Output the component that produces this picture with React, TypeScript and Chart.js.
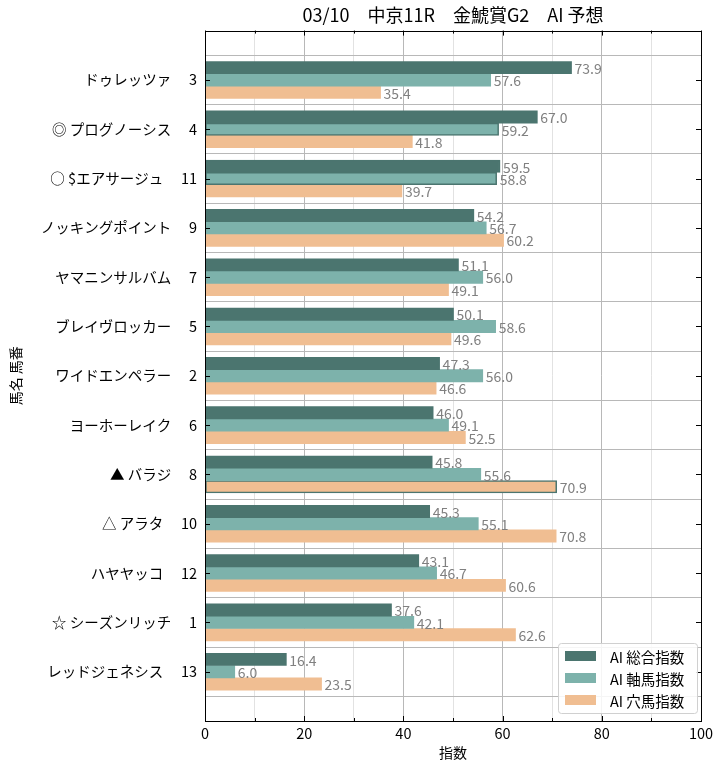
import React, { useEffect, useRef } from "react";
import { Chart, registerables } from "chart.js";
Chart.register(...registerables);

const titleText = "03/10\u3000中京11R\u3000金鯱賞G2\u3000AI 予想";
const marks = ["", "◎", "○", "", "", "", "", "", "▲", "△", "", "☆", ""];
const horseNames = [
  "ドゥレッツァ", "プログノーシス", "$エアサージュ", "ノッキングポイント", "ヤマニンサルバム",
  "ブレイヴロッカー", "ワイドエンペラー", "ヨーホーレイク", "バラジ", "アラタ",
  "ハヤヤッコ", "シーズンリッチ", "レッドジェネシス",
];
const horseNumbers = [3, 4, 11, 9, 7, 5, 2, 6, 8, 10, 12, 1, 13];
const totalIndex = [73.9, 67.0, 59.5, 54.2, 51.1, 50.1, 47.3, 46.0, 45.8, 45.3, 43.1, 37.6, 16.4];
const axisIndex = [57.6, 59.2, 58.8, 56.7, 56.0, 58.6, 56.0, 49.1, 55.6, 55.1, 46.7, 42.1, 6.0];
const anaIndex = [35.4, 41.8, 39.7, 60.2, 49.1, 49.6, 46.6, 52.5, 70.9, 70.8, 60.6, 62.6, 23.5];
const seriesNames = ["AI 総合指数", "AI 軸馬指数", "AI 穴馬指数"];
// which horse (by row) has an outlined bar in each series
const outlinedTotal = [2];
const outlinedAxis = [1, 2];
const outlinedAna = [8];
const xTicks = [0, 20, 40, 60, 80, 100];

const FONT = "'Noto Sans CJK JP', 'Noto Sans', sans-serif";
const C_DARK = "#4b756f";
const C_MID = "#7db2ab";
const C_ORANGE = "#f0be92";

export default function App() {
  const ref = useRef<HTMLCanvasElement>(null);
  useEffect(() => {
    const labels = ["", ...horseNames.map((n, i) => (marks[i] ? marks[i] + " " : "") + n + "\u3000 " + horseNumbers[i]), ""];
    const pad = (a: number[]) => [null, ...a, null];
    const outlined = (rows: number[]) => (ctx: any) => (rows.includes(ctx.dataIndex - 1) ? 1.5 : 0);

    const valueLabels = {
      id: "valueLabels",
      afterDatasetsDraw(chart: any) {
        const ctx = chart.ctx;
        ctx.save();
        ctx.font = `14px ${FONT}`;
        ctx.fillStyle = "#808080";
        ctx.textBaseline = "middle";
        ctx.textAlign = "left";
        chart.data.datasets.forEach((ds: any, di: number) => {
          const meta = chart.getDatasetMeta(di);
          meta.data.forEach((el: any, i: number) => {
            const v = ds.data[i];
            if (v == null) return;
            ctx.fillText(v.toFixed(1), el.x + 3, el.y + 1);
          });
        });
        ctx.restore();
      },
    };

    const frame = {
      id: "frame",
      afterDraw(chart: any) {
        const ctx = chart.ctx;
        const a = chart.chartArea;
        const xs = chart.scales.x;
        const ys = chart.scales.y;
        ctx.save();
        ctx.strokeStyle = "#000";
        ctx.lineWidth = 1;
        // inward ticks
        ctx.beginPath();
        for (let v = 0; v <= 100; v += 10) {
          const px = Math.round(xs.getPixelForValue(v)) + 0.5;
          const len = v % 20 === 0 ? 5 : 3;
          ctx.moveTo(px, a.bottom);
          ctx.lineTo(px, a.bottom - len);
          ctx.moveTo(px, a.top);
          ctx.lineTo(px, a.top + len);
        }
        for (let i = 1; i <= horseNames.length; i++) {
          const py = Math.round(ys.getPixelForValue(i)) + 0.5;
          ctx.moveTo(a.left, py);
          ctx.lineTo(a.left + 5, py);
          ctx.moveTo(a.right, py);
          ctx.lineTo(a.right - 5, py);
        }
        ctx.stroke();
        ctx.strokeRect(Math.round(a.left) + 0.5, Math.round(a.top) + 0.5, Math.round(a.right - a.left), Math.round(a.bottom - a.top));

        // legend
        const w = 139, h = 70;
        const lx = a.right - w - 4, ly = a.bottom - h - 8;
        ctx.fillStyle = "rgba(255,255,255,0.85)";
        ctx.strokeStyle = "#d0d0d0";
        ctx.beginPath();
        (ctx as any).roundRect(lx + 0.5, ly + 0.5, w, h, 3);
        ctx.fill();
        ctx.stroke();
        const colors = [C_DARK, C_MID, C_ORANGE];
        ctx.font = `14.5px ${FONT}`;
        ctx.textBaseline = "middle";
        ctx.textAlign = "left";
        seriesNames.forEach((s, i) => {
          const ry = ly + 13 + i * 22;
          ctx.fillStyle = colors[i];
          ctx.fillRect(lx + 7, ry - 5, 31, 10);
          ctx.fillStyle = "#000";
          ctx.fillText(s, lx + 52, ry + 1);
        });
        ctx.restore();
      },
    };

    const chart = new Chart(ref.current!, {
      type: "bar",
      data: {
        labels,
        datasets: [
          { label: seriesNames[0], data: pad(totalIndex), backgroundColor: C_DARK, borderColor: C_DARK, borderWidth: outlined(outlinedTotal), borderSkipped: false },
          { label: seriesNames[1], data: pad(axisIndex), backgroundColor: C_MID, borderColor: C_DARK, borderWidth: outlined(outlinedAxis), borderSkipped: false },
          { label: seriesNames[2], data: pad(anaIndex), backgroundColor: C_ORANGE, borderColor: C_DARK, borderWidth: outlined(outlinedAna), borderSkipped: false },
        ] as any,
      },
      plugins: [valueLabels, frame],
      options: {
        indexAxis: "y",
        animation: false,
        responsive: false,
        maintainAspectRatio: false,
        datasets: { bar: { barThickness: 12.3 } } as any,
        layout: { padding: { left: 0, right: 24, top: 0, bottom: 0 } },
        plugins: {
          legend: { display: false },
          tooltip: { enabled: false },
          title: {
            display: true,
            text: titleText,
            fullSize: false,
            color: "#000",
            font: { family: FONT, size: 18, weight: "normal" },
            padding: { top: 4, bottom: 5 },
          } as any,
        },
        scales: {
          x: {
            type: "linear",
            min: 0,
            max: 100,
            z: 1,
            afterBuildTicks: (s: any) => {
              const t: any[] = [];
              for (let v = 0; v <= 100; v += 10) t.push({ value: v });
              s.ticks = t;
            },
            afterFit: (s: any) => { s.height = 49; },
            ticks: {
              callback: (v: any) => (xTicks.includes(Number(v)) ? String(v) : ""),
              color: "#000",
              font: { family: FONT, size: 14.5 },
              padding: 4,
              maxRotation: 0,
              autoSkip: false,
            },
            grid: {
              drawTicks: false,
              color: (c: any) => (c.tick && c.tick.value % 20 === 0 ? "#b8b8b8" : "#e2e2e2"),
              lineWidth: 1,
            },
            border: { display: false },
            title: { display: true, text: "指数", color: "#000", font: { family: FONT, size: 14 }, padding: { top: 0, bottom: 9 } },
          },
          y: {
            type: "category",
            offset: false,
            z: 1,
            afterFit: (s: any) => { s.width = 205; },
            ticks: {
              color: "#000",
              font: { family: FONT, size: 14.5 },
              padding: 8,
              autoSkip: false,
            },
            grid: { drawTicks: false, color: "#b8b8b8", lineWidth: 1 },
            border: { display: false },
            title: { display: true, text: "馬名 馬番", color: "#000", font: { family: FONT, size: 14 }, padding: { top: 7, bottom: 0 } },
          },
        },
      } as any,
    });
    return () => chart.destroy();
  }, []);

  return (
    <div style={{ position: "absolute", left: 0, top: 0, width: 725, height: 770, background: "#fff" }}>
      <canvas ref={ref} width={725} height={770} style={{ width: 725, height: 770 }} />
    </div>
  );
}
